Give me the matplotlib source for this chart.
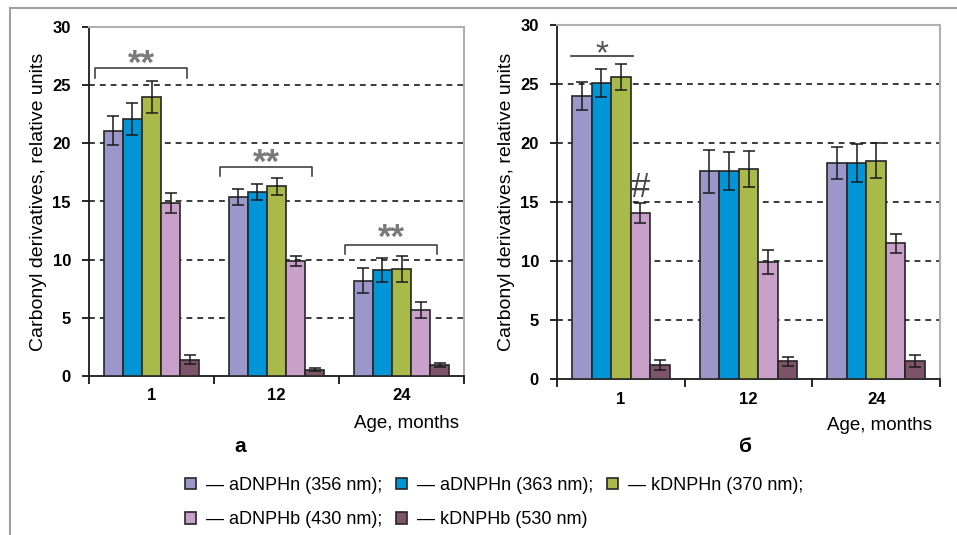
import matplotlib
matplotlib.use("Agg")
from matplotlib import pyplot as plt
from matplotlib import transforms
import numpy as np

plt.rcParams['font.family'] = ['Liberation Sans', 'DejaVu Sans']

# data
ages = ['1', '12', '24']
series = ['aDNPHn (356 nm);', 'aDNPHn (363 nm);', 'kDNPHn (370 nm);',
          'aDNPHb (430 nm);', 'kDNPHb (530 nm)']
colors = ['#9c97cb', '#0095d6', '#a9ba4a', '#c9a0c9', '#7d5468']

# panel a: rows = series, cols = age groups
vals_a = [[21.1, 15.4, 8.2],
          [22.1, 15.8, 9.1],
          [24.0, 16.3, 9.2],
          [14.9, 9.9, 5.7],
          [1.4, 0.55, 0.95]]
err_a = [[1.25, 0.7, 1.1],
         [1.4, 0.7, 1.05],
         [1.4, 0.7, 1.1],
         [0.85, 0.45, 0.7],
         [0.4, 0.15, 0.15]]

# panel b
vals_b = [[24.0, 17.6, 18.3],
          [25.1, 17.6, 18.3],
          [25.6, 17.8, 18.5],
          [14.1, 9.9, 11.5],
          [1.2, 1.5, 1.5]]
err_b = [[1.2, 1.8, 1.35],
         [1.2, 1.6, 1.6],
         [1.1, 1.5, 1.5],
         [0.85, 1.0, 0.8],
         [0.4, 0.4, 0.5]]

# significance brackets on panel a: (group, bracket height, label height)
brackets_a = [(0, 26.5, 27.7), (1, 18.0, 19.2), (2, 11.3, 12.7)]

fig = plt.figure(figsize=(9.57, 5.35), dpi=100)

# grey frame (top and left only)
fig.add_artist(plt.Line2D([10/957, 1], [1-8/535, 1-8/535], color='#a0a0a0', lw=1.5))
fig.add_artist(plt.Line2D([10/957, 10/957], [0, 1-8/535], color='#a0a0a0', lw=1.5))

axa = fig.add_axes([89/957, 1-376/535, 375/957, 349/535])
axb = fig.add_axes([557/957, 1-379/535, 383/957, 354/535])

w = 0.153
x = np.arange(len(ages))


def draw_panel(ax, vals, errs):
    for i in range(len(series)):
        pos = x + (i - 2) * w
        ax.bar(pos, vals[i], w, color=colors[i], edgecolor='#262626', lw=1.2, zorder=3,
               label=series[i])
        ax.errorbar(pos, vals[i], yerr=errs[i], fmt='none', ecolor='#1a1a1a',
                    elinewidth=1.1, capsize=4, capthick=1.1, zorder=4)
    for yv in [5, 10, 15, 20, 25]:
        ax.axhline(yv, color='#1a1a1a', lw=1.2, ls=(0, (3.5, 3)), zorder=1)
    ax.set_xlim(-0.5, 2.5)
    ax.set_ylim(0, 30)
    ax.set_yticks(range(0, 31, 5))
    ax.set_yticklabels([str(v) for v in range(0, 31, 5)], fontweight='bold', fontsize=12)
    ax.set_xticks([-0.5, 0.5, 1.5, 2.5])
    ax.set_xticklabels([])
    ax.set_xticks(x, minor=True)
    ax.set_xticklabels(ages, minor=True, fontweight='bold', fontsize=12)
    ax.tick_params(axis='x', which='major', length=6, width=1.2, direction='out')
    ax.tick_params(axis='x', which='minor', length=0, pad=9)
    ax.tick_params(axis='y', length=5, width=1.2, direction='out', pad=8)
    for s in ['top', 'right']:
        ax.spines[s].set_color('#b0b0b0')
        ax.spines[s].set_linewidth(1.5)
    for s in ['left', 'bottom']:
        ax.spines[s].set_color('#1a1a1a')
        ax.spines[s].set_linewidth(1.3)
    ax.set_ylabel('Carbonyl derivatives, relative units', fontsize=14, labelpad=4)


draw_panel(axa, vals_a, err_a)
draw_panel(axb, vals_b, err_b)

# brackets "**" on panel a, star glyph sits high so shift the baseline down
fs_star = 25
star_tr = transforms.offset_copy(axa.transData, fig, y=-0.57*fs_star, units='points')
for g, h, th in brackets_a:
    x0, x1 = g - 0.45, g + 0.285
    axa.plot([x0, x0, x1, x1], [h - 0.85, h, h, h - 0.85], color='#333333', lw=1.1,
             zorder=5, clip_on=False)
    axa.text((x0 + x1) / 2, th, '**', ha='center', va='baseline', fontsize=fs_star,
             fontweight='bold', color='#7a7a7a', zorder=5, transform=star_tr)

# "*" line and "#" on panel b
star_trb = transforms.offset_copy(axb.transData, fig, y=-0.57*24, units='points')
axb.plot([-0.39, 0.095], [27.4, 27.4], color='#333333', lw=1.2, zorder=5)
axb.text(-0.15, 28.4, '*', ha='center', va='baseline', fontsize=24, color='#555555',
         transform=star_trb)
axb.text(w, 16.2, '#', ha='center', va='center', fontsize=25, color='#444444')

fig.text(459/957, 1-424/535, 'Age, months', ha='right', va='center', fontsize=13.5)
fig.text(932/957, 1-425/535, 'Age, months', ha='right', va='center', fontsize=13.5)
fig.text(240/957, 1-446/535, 'а', ha='center', va='center', fontsize=15, fontweight='bold')
fig.text(745/957, 1-447/535, 'б', ha='center', va='center', fontsize=15, fontweight='bold')

# legend, row-major order
h, l = axa.get_legend_handles_labels()
order = [0, 3, 1, 4, 2]
leg = fig.legend([h[k] for k in order], ['— ' + l[k] for k in order], ncol=3,
                 loc='center left', bbox_to_anchor=(185/957, 1-502.5/535), frameon=False,
                 fontsize=13, handlelength=0.62, handleheight=0.62, handletextpad=0.55,
                 columnspacing=0.75, labelspacing=0.95, borderaxespad=0, borderpad=0)

fig.savefig('out.png', dpi=100)
